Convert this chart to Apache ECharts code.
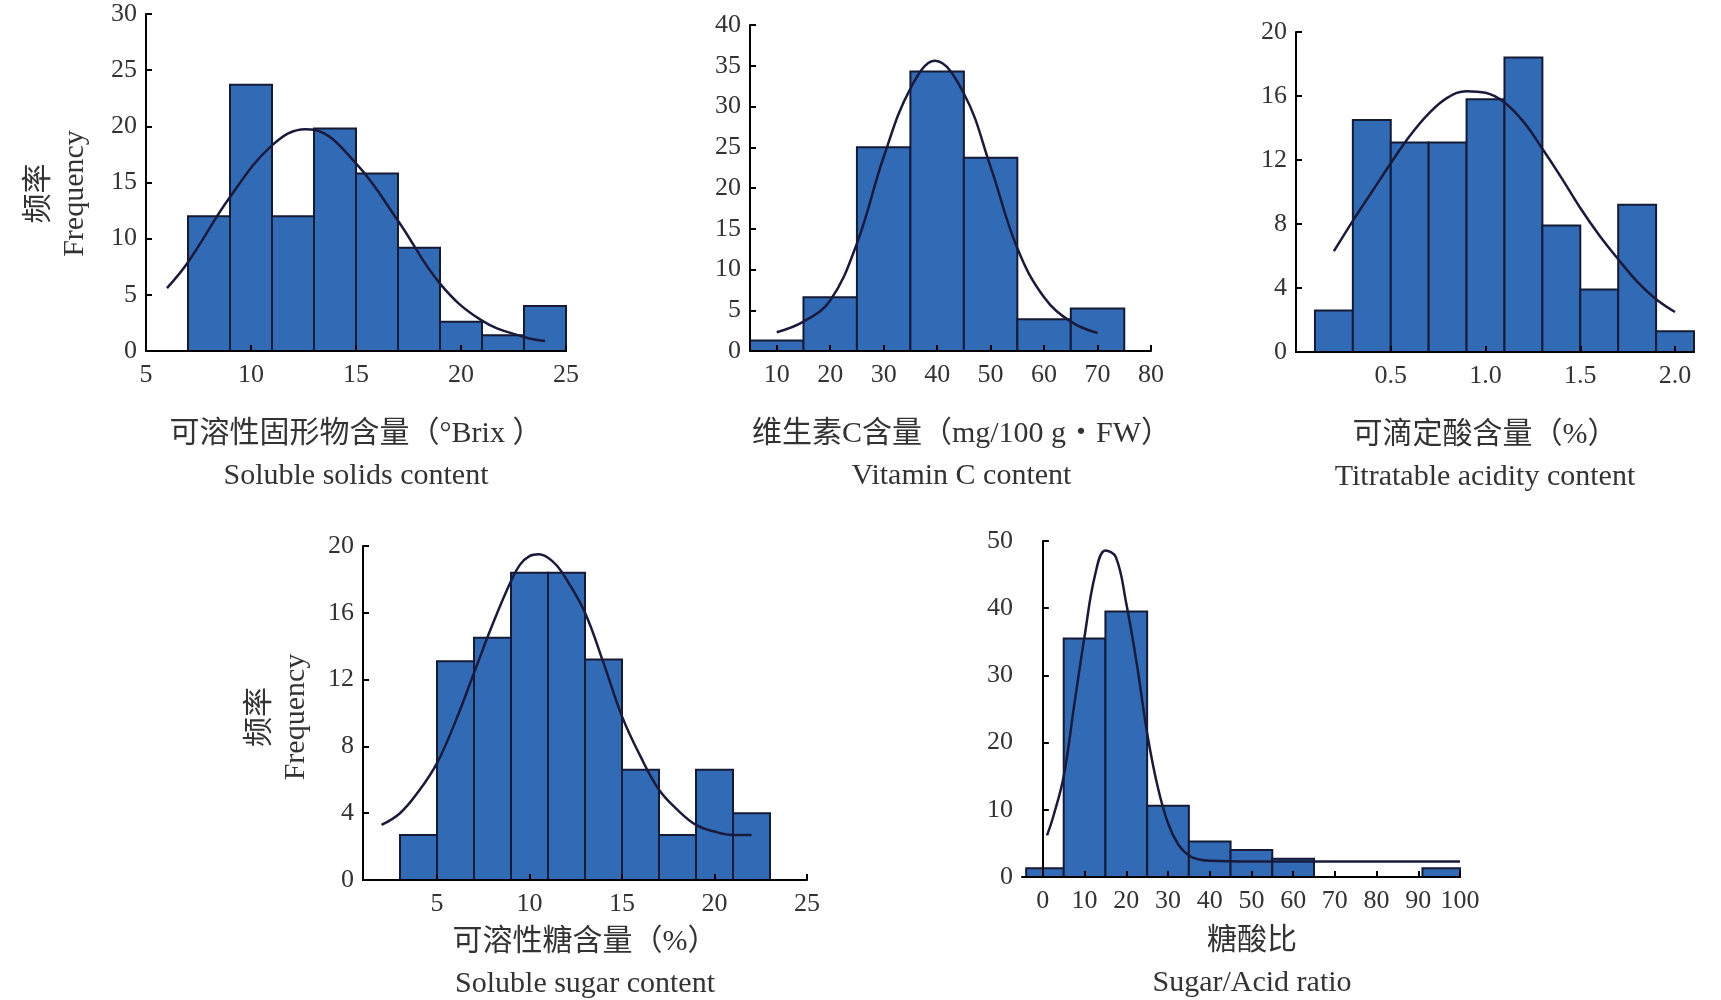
<!DOCTYPE html>
<html>
<head>
<meta charset="utf-8">
<script src="https://cdn.jsdelivr.net/npm/echarts@6/dist/echarts.min.js"></script>
<style>
  html, body { margin: 0; padding: 0; background: #fff; }
  #main { width: 1721px; height: 1000px; }
</style>
</head>
<body>
<div id="main"></div>
<script>
// soluble solids content (°Brix)
var ssEdges = [7, 9, 11, 13, 15, 17, 19, 21, 23, 25];
var ssFreq = [12, 23.7, 12, 19.8, 15.8, 9.2, 2.6, 1.4, 4.0];
var ssCurveX = [6, 7, 9, 11, 12.6, 13, 15, 17, 19, 21, 23, 24];
var ssCurveY = [5.6, 7.9, 13.7, 18.3, 19.75, 19.7, 16.7, 11.6, 6.0, 2.7, 1.25, 0.9];

// vitamin C content
var vcEdges = [5, 15, 25, 35, 45, 55, 65, 75];
var vcFreq = [1.3, 6.6, 25, 34.3, 23.7, 3.9, 5.2];
var vcCurveX = [10, 15, 20, 25, 30, 35, 39.6, 45, 50, 55, 60, 65, 70];
var vcCurveY = [2.3, 3.6, 6.2, 13.2, 23.8, 32.2, 35.6, 31.6, 22.6, 12.6, 6.6, 3.6, 2.2];

// titratable acidity
var taEdges = [0.1, 0.3, 0.5, 0.7, 0.9, 1.1, 1.3, 1.5, 1.7, 1.9, 2.1];
var taFreq = [2.6, 14.5, 13.1, 13.1, 15.8, 18.4, 7.9, 3.9, 9.2, 1.3];
var taCurveX = [0.2, 0.3, 0.4, 0.5, 0.6, 0.7, 0.8, 0.9, 1.0, 1.1, 1.2, 1.3, 1.4, 1.5, 1.6, 1.7, 1.8, 1.9, 2.0];
var taCurveY = [6.3, 8.2, 10.0, 11.8, 13.5, 14.9, 15.9, 16.3, 16.2, 15.6, 14.4, 12.7, 10.9, 9.0, 7.3, 5.8, 4.4, 3.3, 2.5];

// soluble sugar
var sgEdges = [3, 5, 7, 9, 11, 13, 15, 17, 19, 21, 23];
var sgFreq = [2.7, 13.1, 14.5, 18.4, 18.4, 13.2, 6.6, 2.7, 6.6, 4.0];
var sgCurveX = [2, 3, 4, 5, 6, 7, 8, 9, 9.5, 10, 10.5, 11, 11.5, 12, 13, 14, 15, 16, 17, 18, 19, 20, 21, 22];
var sgCurveY = [3.3, 4.0, 5.3, 7.0, 9.5, 12.4, 15.3, 17.9, 18.9, 19.4, 19.5, 19.3, 18.8, 18.0, 16.0, 13.0, 9.8, 7.4, 5.4, 4.2, 3.3, 2.9, 2.7, 2.7];

// sugar/acid ratio
var saLo = [-4, 5, 15, 25, 35, 45, 55, 91];
var saHi = [5, 15, 25, 35, 45, 55, 65, 100];
var saFreq = [1.3, 35.5, 39.5, 10.6, 5.3, 4.0, 2.7, 1.3];
var saCurveX = [1, 2.5, 5, 7.5, 10, 12.5, 15, 17.5, 20, 22.5, 25, 27.5, 30, 32.5, 35, 37.5, 40, 50, 60, 70, 80, 90, 100];
var saCurveY = [6.2, 9.0, 15.0, 25.5, 35.8, 44.9, 48.6, 47.6, 40.7, 31.8, 21.4, 13.5, 8.0, 4.8, 3.2, 2.6, 2.4, 2.3, 2.3, 2.3, 2.3, 2.3, 2.3];

var serif = "'Liberation Serif', 'Noto Sans CJK SC', serif";
var barFill = '#316ab5';
var barLine = '#151a35';
var curveColor = '#1a1a3c';

function binsFromEdges(edges, freq) {
  var out = [];
  for (var i = 0; i < freq.length; i++) {
    out.push([edges[i], edges[i + 1], freq[i]]);
  }
  return out;
}
function binsFromLoHi(lo, hi, freq) {
  var out = [];
  for (var i = 0; i < freq.length; i++) {
    out.push([lo[i], hi[i], freq[i]]);
  }
  return out;
}
function pairs(xs, ys) {
  var out = [];
  for (var i = 0; i < xs.length; i++) out.push([xs[i], ys[i]]);
  return out;
}

function renderBin(params, api) {
  var p0 = api.coord([api.value(0), api.value(2)]);
  var p1 = api.coord([api.value(1), 0]);
  return {
    type: 'rect',
    shape: { x: p0[0], y: p0[1], width: p1[0] - p0[0], height: p1[1] - p0[1] },
    style: { fill: barFill, stroke: barLine, lineWidth: 2 }
  };
}

var axisLineStyle = { show: true, lineStyle: { color: '#000', width: 2 } };
var axisTickStyle = { show: true, inside: true, length: 6, lineStyle: { color: '#000', width: 2 } };
var labelStyle = { color: '#333', fontFamily: serif, fontSize: 26 };

function xAx(grid, min, max, opts) {
  var ax = {
    type: 'value', gridIndex: grid, min: min, max: max, z: 5,
    axisLine: axisLineStyle,
    axisTick: Object.assign({}, axisTickStyle),
    axisLabel: Object.assign({ margin: 11 }, labelStyle),
    splitLine: { show: false },
    name: opts.name, nameLocation: 'middle', nameGap: opts.nameGap,
    nameTextStyle: { color: '#333', fontFamily: serif, fontSize: 30, lineHeight: 42, padding: opts.pad || 0 }
  };
  if (opts.interval) ax.interval = opts.interval;
  if (opts.ticks) {
    ax.axisTick.customValues = opts.ticks;
    ax.axisLabel.customValues = opts.ticks;
  }
  if (opts.formatter) ax.axisLabel.formatter = opts.formatter;
  return ax;
}
function yAx(grid, max, interval, name, gap, pad) {
  var ax = {
    type: 'value', gridIndex: grid, min: 0, max: max, interval: interval, z: 5,
    axisLine: axisLineStyle,
    axisTick: axisTickStyle,
    axisLabel: Object.assign({ margin: 9 }, labelStyle),
    splitLine: { show: false }
  };
  if (name) {
    ax.name = name;
    ax.nameLocation = 'middle';
    ax.nameGap = gap;
    ax.nameTextStyle = { color: '#333', fontFamily: serif, fontSize: 30, lineHeight: 36, padding: pad || 0 };
  }
  return ax;
}

function histSeries(idx, data) {
  return {
    type: 'custom', xAxisIndex: idx, yAxisIndex: idx,
    renderItem: renderBin, encode: { x: [0, 1], y: 2 },
    data: data, z: 2, silent: true
  };
}
function curveSeries(idx, data) {
  return {
    type: 'line', xAxisIndex: idx, yAxisIndex: idx, data: data,
    smooth: 0.4, showSymbol: false, z: 4, silent: true,
    lineStyle: { color: curveColor, width: 2.5 }
  };
}

function gridAt(left, top, width, height) {
  return { left: left, top: top, width: width, height: height, containLabel: false, outerBoundsMode: 'none' };
}

var chart = echarts.init(document.getElementById('main'));
chart.setOption({
  animation: false,
  backgroundColor: '#fff',
  grid: [
    gridAt(146, 14, 420, 337),
    gridAt(750, 25, 401, 326),
    gridAt(1296, 32, 398, 320),
    gridAt(363, 546, 444, 334),
    gridAt(1022, 541, 438, 336)
  ],
  xAxis: [
    xAx(0, 5, 25, { interval: 5, name: '可溶性固形物含量（°Brix ）\nSoluble solids content', nameGap: 62 }),
    xAx(1, 5, 80, { ticks: [10, 20, 30, 40, 50, 60, 70, 80], name: '维生素C含量（mg/100 g・FW）\nVitamin C content',
      nameGap: 62, pad: [0, 0, 0, 22] }),
    xAx(2, 0, 2.1, { ticks: [0.5, 1.0, 1.5, 2.0], formatter: function (v) { return v.toFixed(1); },
      name: '可滴定酸含量（%）\nTitratable acidity content', nameGap: 62, pad: [0, 20, 0, 0] }),
    xAx(3, 1, 25, { ticks: [5, 10, 15, 20, 25], name: '可溶性糖含量（%）\nSoluble sugar content', nameGap: 41 }),
    xAx(4, -5, 100, { ticks: [0, 10, 20, 30, 40, 50, 60, 70, 80, 90, 100], name: '糖酸比\nSugar/Acid ratio',
      nameGap: 43, pad: [0, 0, 0, 22] })
  ],
  yAxis: [
    yAx(0, 30, 5, '频率\nFrequency', 53, [0, 22, 0, 0]),
    yAx(1, 40, 5),
    yAx(2, 20, 4),
    yAx(3, 20, 4, '频率\nFrequency', 49, [0, 8, 0, 0]),
    yAx(4, 50, 10)
  ],
  series: [
    histSeries(0, binsFromEdges(ssEdges, ssFreq)),
    curveSeries(0, pairs(ssCurveX, ssCurveY)),
    histSeries(1, binsFromEdges(vcEdges, vcFreq)),
    curveSeries(1, pairs(vcCurveX, vcCurveY)),
    histSeries(2, binsFromEdges(taEdges, taFreq)),
    curveSeries(2, pairs(taCurveX, taCurveY)),
    histSeries(3, binsFromEdges(sgEdges, sgFreq)),
    curveSeries(3, pairs(sgCurveX, sgCurveY)),
    histSeries(4, binsFromLoHi(saLo, saHi, saFreq)),
    curveSeries(4, pairs(saCurveX, saCurveY))
  ]
});
</script>
</body>
</html>
